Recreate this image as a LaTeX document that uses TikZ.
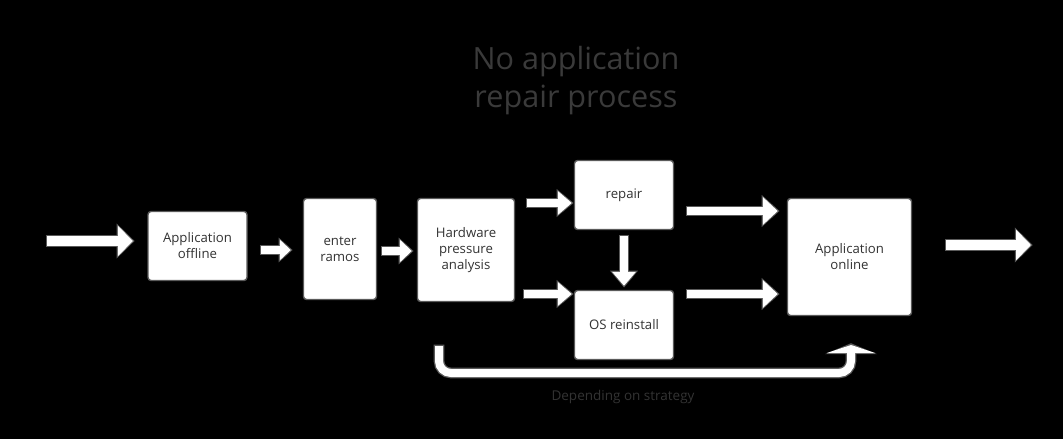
\documentclass[tikz,border=0pt]{standalone}
\usepackage{fontspec}
\setmainfont{Open Sans}
\usepackage{tikz}
\usetikzlibrary{arrows.meta}
\usetikzlibrary{calc}
\usepackage{xcolor}
\definecolor{edgegray}{HTML}{5A5A5A}
\definecolor{txtgray}{HTML}{333333}
\definecolor{ttlgray}{HTML}{3A3A3A}

% hollow block arrow: shaft, head width, head length, path
\newcommand{\blk}[4]{%
	\pgfmathsetmacro\blkshaft{#1+2.6}%
	\pgfmathsetmacro\blkhw{#2+4}%
	\pgfmathsetmacro\blkhl{#3+3}%
	\draw[draw=edgegray,line width=\blkshaft pt,-{Triangle[length=\blkhl pt,width=\blkhw pt]},shorten >=-1.8pt,shorten <=-1.3pt] #4;
	\draw[draw=white,line width=#1pt,-{Triangle[length=#3pt,width=#2pt]}] #4;
}

\begin{document}
\begin{tikzpicture}[x=1pt,y=-1pt,
		box/.style={draw=edgegray,fill=white,line width=1.4pt,rounded corners=3pt,
			align=center,text=txtgray,font=\fontsize{13.2}{16}\selectfont,inner sep=0pt}]
			% background
			\fill[black] (0,0) rectangle (1063,439);
			\useasboundingbox (0,0) rectangle (1063,439);
			
			% title
			\node[text=ttlgray,align=center,font=\fontsize{30.6}{38}\selectfont] (title) at (576,81) {No application\\repair process};
			
			% boxes
			\node[box,minimum width=99pt,minimum height=69pt] (off) at (197.5,246) {Application\\offline};
			\node[box,minimum width=73pt,minimum height=101pt] (ent) at (340,249) {enter\\ramos};
			\node[box,minimum width=97pt,minimum height=103pt] (hw) at (466,250) {Hardware\\pressure\\analysis};
			\node[box,minimum width=99pt,minimum height=69pt] (rep) at (624,195) {repair};
			\node[box,minimum width=99pt,minimum height=69pt] (os) at (624,325) {OS reinstall};
			\node[box,minimum width=124pt,minimum height=117pt] (onl) at (849.5,257) {Application\\online};
			
			% free ends
			\coordinate (src) at (47,241);
			\coordinate (dst) at (1031,245);
			\coordinate (ustart) at (439,346);
			\coordinate (uend) at (851,345);
			
			% arrows
			\blk{10}{30}{15}{(src) -- ([xshift=-14.5pt]off.west |- src)}
			\blk{8}{20}{11}{([xshift=13.5pt]off.east |- {(0,250)}) -- ([xshift=-12pt]ent.west |- {(0,250)})}
			\blk{8}{22}{12}{([xshift=5pt]ent.east |- {(0,251)}) -- ([xshift=-5pt]hw.west |- {(0,251)})}
			\blk{8}{23}{14}{([xshift=12pt]hw.east |- {(0,203)}) -- ([xshift=-2pt]rep.west |- {(0,203)})}
			\blk{8}{23}{14}{([xshift=9pt]hw.east |- {(0,294)}) -- ([xshift=-2pt]os.west |- {(0,294)})}
			\blk{8}{23}{14}{([yshift=-6pt]rep.south) -- ([yshift=4pt]os.north)}
			\blk{8}{27}{15}{([xshift=13pt]rep.east |- {(0,211)}) -- ([xshift=-9pt]onl.west |- {(0,211)})}
			\blk{8}{27}{15}{([xshift=13pt]os.east |- {(0,294)}) -- ([xshift=-9pt]onl.west |- {(0,294)})}
			\blk{10}{30}{15}{([xshift=34pt]onl.east |- dst) -- (dst)}
			\blk{8}{48}{8}{[rounded corners=12pt] (ustart) -- ++(0,27) -| (uend)}
			
			% label
			\node[text=txtgray,font=\fontsize{13.5}{16}\selectfont] (strat) at (623,397) {Depending on strategy};
		\end{tikzpicture}
\end{document}
